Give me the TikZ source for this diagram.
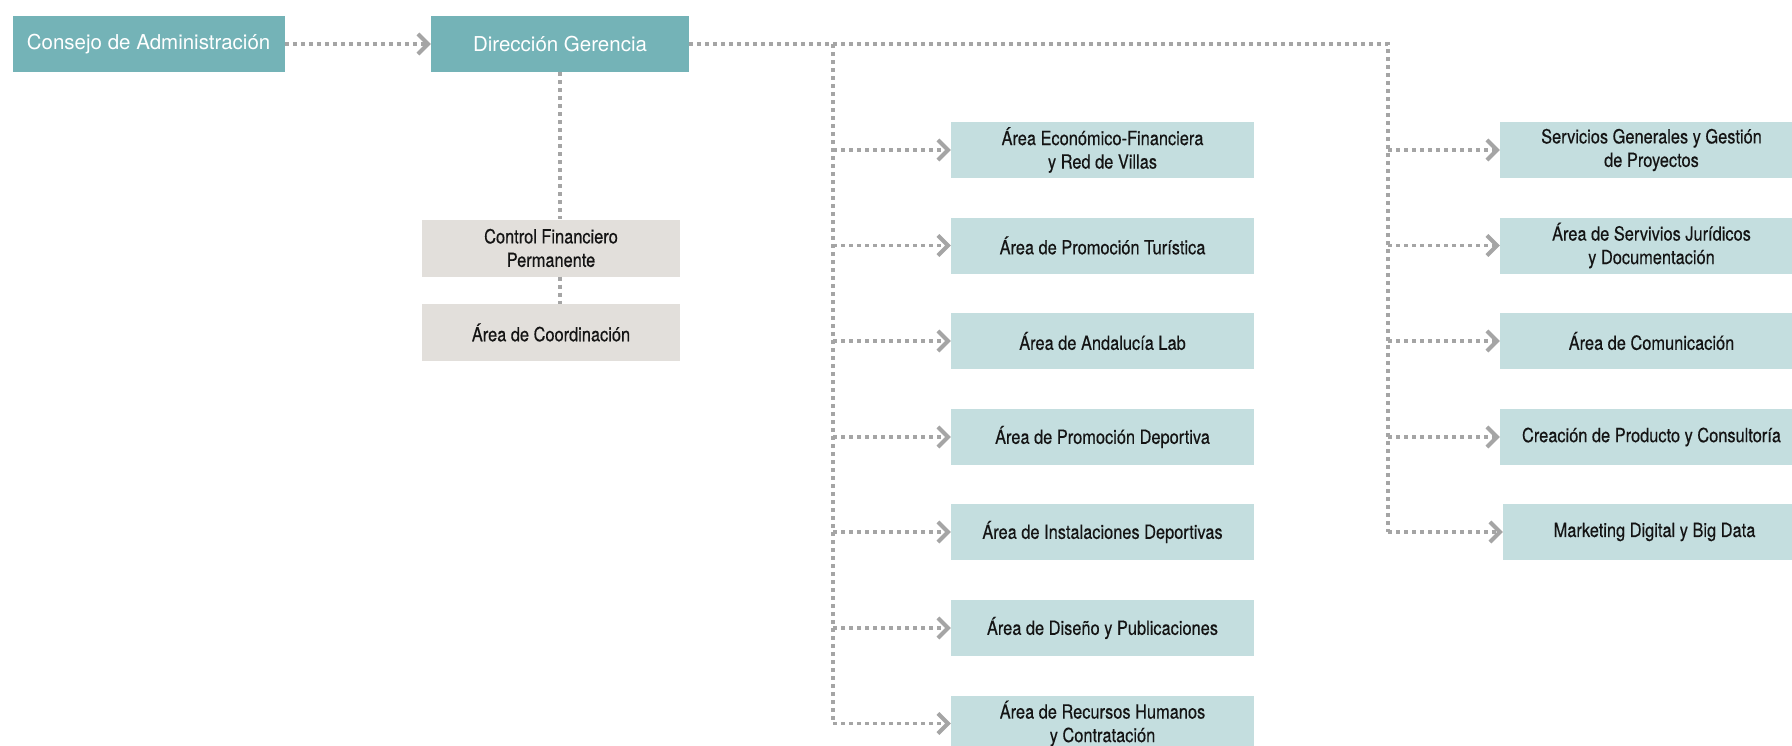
\documentclass[tikz,border=0pt]{standalone}
\usepackage{fontspec}
\setmainfont{TeX Gyre Heros}
\newfontfamily\condfont[FakeStretch=0.84, FakeBold=0.35]{TeX Gyre Heros}
\usepackage{xcolor}
\usepackage{tikz}
\usetikzlibrary{arrows.meta}
\definecolor{OrgTeal}{RGB}{116,179,183}
\definecolor{OrgLight}{RGB}{196,222,223}
\definecolor{OrgSand}{RGB}{226,223,219}
\definecolor{OrgGray}{RGB}{165,165,165}
\definecolor{OrgText}{RGB}{20,20,20}

\begin{document}
\begin{tikzpicture}[x=1pt, y=-1pt,
            top/.style={rectangle, fill=OrgTeal, text=white, minimum height=56pt,
                        inner sep=0pt, align=center, font=\fontsize{20.5}{24}\selectfont},
            bx/.style={rectangle, fill=OrgLight, text=OrgText, minimum width=303pt,
                       minimum height=56pt, inner sep=0pt, align=center,
                       font=\condfont\fontsize{19.5}{23.5}\selectfont},
            sd/.style={bx, fill=OrgSand, minimum width=258pt, minimum height=57pt},
            ln/.style={draw=OrgGray, line width=3.5pt, dash pattern=on 4pt off 4pt},
            arr/.style={ln, -{Straight Barb[length=10pt, width=20pt, line width=4pt]}}
          ]
          \useasboundingbox (0,0) rectangle (1792,745);
          % top line
          \node[top, minimum width=272pt] (cons) at (148.6, 44) {Consejo de Administración};
          \node[top, minimum width=258pt] (dir)  at (560, 44)   {Dirección Gerencia};
          % staff boxes
          \node[sd] (cf)    at (551, 248)   {Control Financiero\\Permanente};
          \node[sd] (coord) at (551, 332.5) {Área de Coordinación};
          % middle column
          \node[bx] (m1) at (1102.5, 150)   {Área Económico-Financiera\\y Red de Villas};
          \node[bx] (m2) at (1102.5, 245.5) {Área de Promoción Turística};
          \node[bx] (m3) at (1102.5, 341)   {Área de Andalucía Lab};
          \node[bx] (m4) at (1102.5, 437)   {Área de Promoción Deportiva};
          \node[bx] (m5) at (1102.5, 532)   {Área de Instalaciones Deportivas};
          \node[bx] (m6) at (1102.5, 628)   {Área de Diseño y Publicaciones};
          \node[bx] (m7) at (1102.5, 723.5) {Área de Recursos Humanos\\y Contratación};
          % right column
          \node[bx] (r1) at (1651.5, 150)   {Servicios Generales y Gestión\\de Proyectos};
          \node[bx] (r2) at (1651.5, 245.5) {Área de Servivios Jurídicos\\y Documentación};
          \node[bx] (r3) at (1651.5, 341)   {Área de Comunicación};
          \node[bx] (r4) at (1651.5, 437)   {Creación de Producto y Consultoría};
          \node[bx] (r5) at (1654.5, 532)   {Marketing Digital y Big Data};
          \coordinate (mt) at (833, 44);
          \coordinate (rt) at (1388, 44);
          % connectors
          \draw[arr] (cons) -- (dir);
          \draw[ln] (dir.south) -- (dir.south |- cf.north);
          \draw[ln] (dir.south |- cf.south) -- (dir.south |- coord.north);
          \draw[ln] (dir.east) -- (rt) -- (rt |- r5);
          \draw[ln] (mt) -- (mt |- m7);
          \draw[arr] (mt |- m1) -- (m1.west);
          \draw[arr] (mt |- m2) -- (m2.west);
          \draw[arr] (mt |- m3) -- (m3.west);
          \draw[arr] (mt |- m4) -- (m4.west);
          \draw[arr] (mt |- m5) -- (m5.west);
          \draw[arr] (mt |- m6) -- (m6.west);
          \draw[arr] (mt |- m7) -- (m7.west);
          \draw[arr] (rt |- r1) -- (r1.west);
          \draw[arr] (rt |- r2) -- (r2.west);
          \draw[arr] (rt |- r3) -- (r3.west);
          \draw[arr] (rt |- r4) -- (r4.west);
          \draw[arr] (rt |- r5) -- (r5.west);
        \end{tikzpicture}
\end{document}
